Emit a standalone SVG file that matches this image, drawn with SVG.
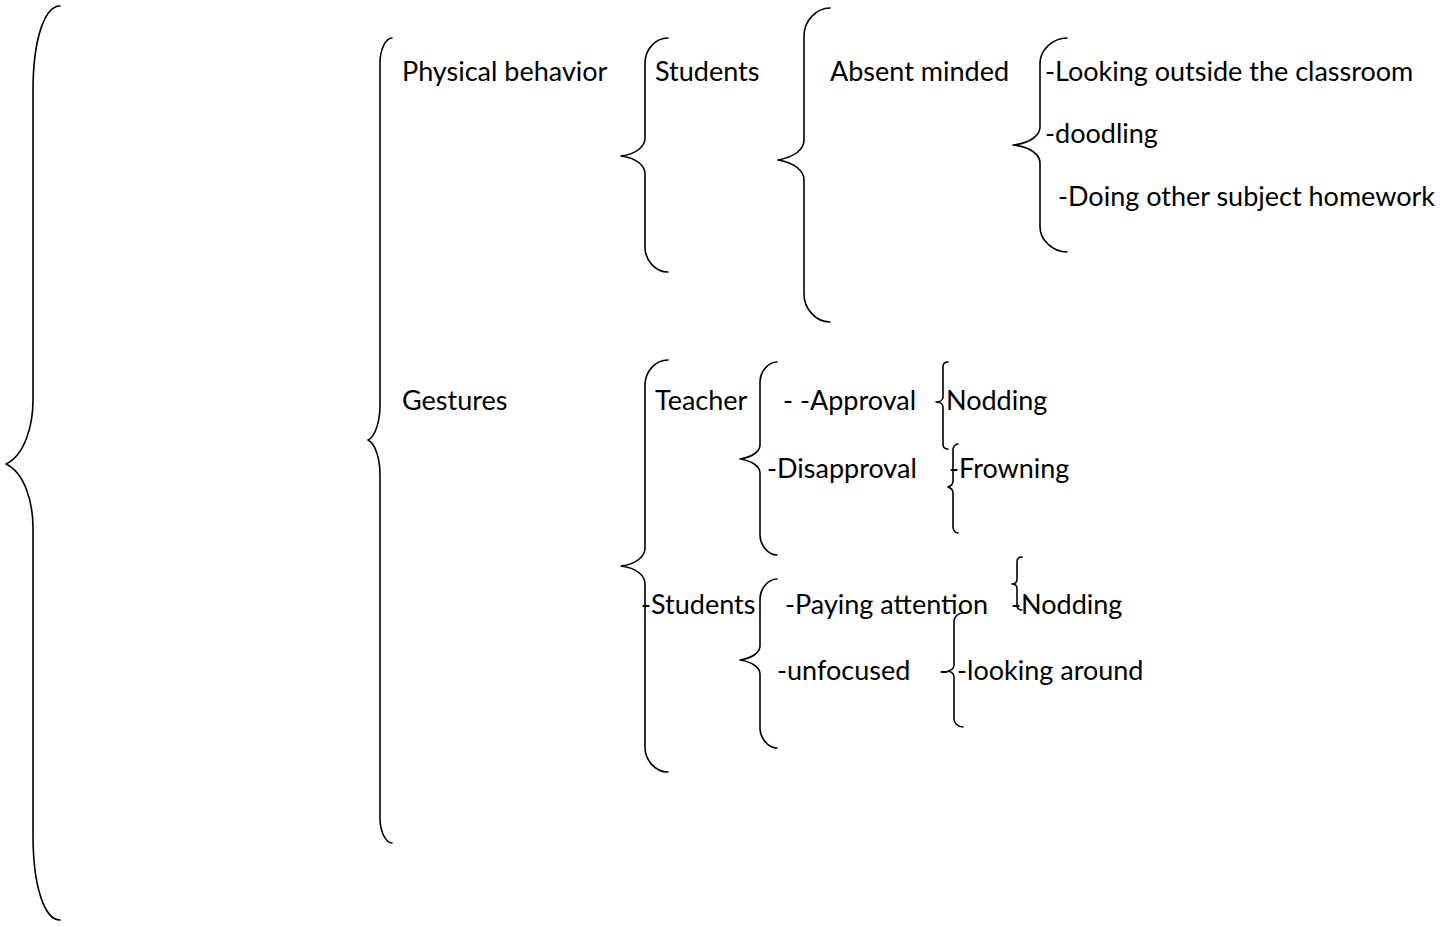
<svg xmlns="http://www.w3.org/2000/svg" width="1448" height="927" viewBox="0 0 1448 927">
<style>
.b{fill:none;stroke:#000;stroke-width:1.6;stroke-linecap:round;stroke-linejoin:round}
text{font-family:Lato,"Open Sans",sans-serif;font-size:27px;fill:#000}
</style>
<rect width="1448" height="927" fill="#fff"/>
<g id="connectors">
<path class="b" d="M60,6 C45,6 33,38 33,91 L33,400 C33,425 25,455 6,464 C25,473 33,503 33,528 L33,835 C33,888 45,920 60,920"/>
<path class="b" d="M392,38 C386,38 380,49 380,63 L380,405 C380,420 376,436 368,440 C376,444 380,460 380,475 L380,818 C380,832 386,843 392,843"/>
<path class="b" d="M668,38 C655,38 645,50 645,63 L645,138 C645,146 637,154 621,156 C637,158 645,166 645,174 L645,247 C645,260 655,272 668,272"/>
<path class="b" d="M830,8 C816,8 804,21 804,36 L804,140 C804,149 795,157 778,160 C795,163 804,171 804,180 L804,294 C804,309 816,322 830,322"/>
<path class="b" d="M1067,38 C1053,38 1040,50 1040,63 L1040,127 C1040,135 1031,143 1013,145 C1031,147 1040,155 1040,163 L1040,227 C1040,240 1053,252 1067,252"/>
<path class="b" d="M668,360 C655,360 645,372 645,385 L645,548 C645,556 637,564 621,566 C637,568 645,576 645,584 L645,747 C645,760 655,772 668,772"/>
<path class="b" d="M777,362 C768,362 760,372 760,382 L760,445 C760,451 753,457 740,459 C753,461 760,467 760,473 L760,535 C760,545 768,555 777,555"/>
<path class="b" d="M948,362 C945,362 943,364 943,367 L943,397 C943,400 940,402 936,402 C940,402 943,404 943,407 L943,444 C943,447 945,449 948,449"/>
<path class="b" d="M958,444 C955,444 953,447 953,450 L953,481 C953,484 951,486 948,487 C951,488 953,490 953,493 L953,527 C953,530 955,533 958,533"/>
<path class="b" d="M777,579 C768,579 760,589 760,599 L760,646 C760,652 753,658 740,660 C753,662 760,668 760,674 L760,728 C760,738 768,748 777,748"/>
<path class="b" d="M1022,557 C1019,557 1017,559 1017,562 L1017,579 C1017,582 1015,584 1012,584 C1015,584 1017,586 1017,589 L1017,605 C1017,608 1019,610 1022,610"/>
<path class="b" d="M963,613 C958,613 954,617 954,621 L954,665 C954,668 952,670 948,671 C952,672 954,674 954,677 L954,719 C954,723 958,727 963,727"/>
</g>
<g id="n-physical"><text x="402" y="81">Physical behavior</text></g>
<g id="n-students1"><text x="655" y="81">Students</text></g>
<g id="n-absent"><text x="830" y="81">Absent minded</text></g>
<g id="n-looking"><text x="1045" y="81">-Looking outside the classroom</text></g>
<g id="n-doodling"><text x="1045" y="143">-doodling</text></g>
<g id="n-doing"><text x="1058" y="206">-Doing other subject homework</text></g>
<g id="n-gestures"><text x="402" y="410">Gestures</text></g>
<g id="n-teacher"><text x="655" y="410">Teacher</text></g>
<g id="n-approval"><text x="783" y="410">- -Approval</text></g>
<g id="n-nodding1"><text x="946" y="410">Nodding</text></g>
<g id="n-disapproval"><text x="767" y="478">-Disapproval</text></g>
<g id="n-frowning"><text x="949" y="478">-Frowning</text></g>
<g id="n-students2"><text x="641" y="614">-Students</text></g>
<g id="n-paying"><text x="785" y="614">-Paying attention</text></g>
<g id="n-nodding2"><text x="1011" y="614">-Nodding</text></g>
<g id="n-unfocused"><text x="777" y="680">-unfocused</text></g>
<g id="n-lookaround"><text x="939" y="680">-</text><text x="957" y="680">-looking around</text></g>
</svg>
